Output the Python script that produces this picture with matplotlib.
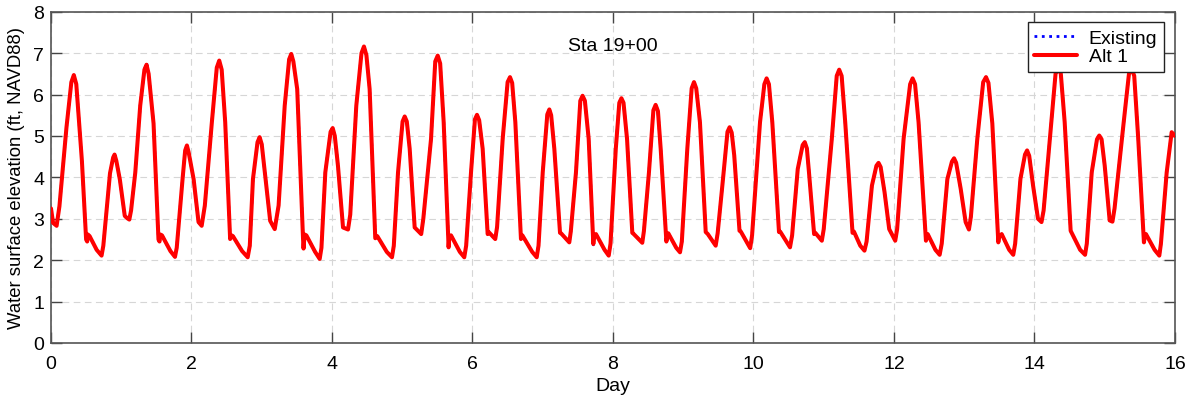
import matplotlib
matplotlib.use("Agg")
import matplotlib.pyplot as plt

# ---- data (day, water surface elevation ft NAVD88) ----
day = [
    0.00, 0.03, 0.08, 0.12, 0.22, 0.29, 0.325, 0.36, 0.44, 0.50, 0.515, 0.525, 0.55, 0.65, 0.72, 0.745,
    0.84, 0.885, 0.905, 0.93, 0.98, 1.05, 1.08, 1.115, 1.14, 1.20, 1.27, 1.33, 1.36, 1.39, 1.46, 1.53,
    1.545, 1.555, 1.58, 1.70, 1.765, 1.79, 1.875, 1.91, 1.935, 1.96, 2.03, 2.10, 2.145, 2.19, 2.29, 2.36,
    2.395, 2.43, 2.48, 2.55, 2.57, 2.59, 2.72, 2.80, 2.83, 2.875, 2.94, 2.97, 3.00, 3.065, 3.12, 3.185,
    3.24, 3.327, 3.39, 3.42, 3.45, 3.505, 3.587, 3.595, 3.61, 3.635, 3.76, 3.825, 3.85, 3.905, 3.98, 4.01,
    4.04, 4.085, 4.157, 4.228, 4.26, 4.346, 4.42, 4.455, 4.49, 4.536, 4.616, 4.645, 4.78, 4.854, 4.88, 4.94,
    5.005, 5.035, 5.065, 5.106, 5.177, 5.27, 5.30, 5.41, 5.47, 5.505, 5.54, 5.59, 5.66, 5.67, 5.694, 5.82,
    5.883, 5.91, 5.979, 6.035, 6.064, 6.095, 6.145, 6.216, 6.23, 6.324, 6.35, 6.43, 6.50, 6.534, 6.565, 6.61,
    6.69, 6.71, 6.85, 6.914, 6.94, 7.00, 7.065, 7.094, 7.12, 7.165, 7.246, 7.26, 7.378, 7.40, 7.473, 7.535,
    7.567, 7.60, 7.654, 7.72, 7.73, 7.758, 7.88, 7.939, 7.965, 8.04, 8.09, 8.12, 8.15, 8.20, 8.275, 8.29,
    8.417, 8.44, 8.512, 8.575, 8.607, 8.64, 8.679, 8.76, 8.77, 8.787, 8.90, 8.954, 8.98, 9.058, 9.12, 9.153,
    9.185, 9.238, 9.32, 9.35, 9.462, 9.49, 9.566, 9.63, 9.66, 9.69, 9.726, 9.801, 9.82, 9.953, 9.98, 10.093,
    10.155, 10.187, 10.22, 10.268, 10.363, 10.38, 10.52, 10.55, 10.63, 10.70, 10.73, 10.76, 10.79, 10.863, 10.88, 10.973,
    11.00, 11.115, 11.185, 11.22, 11.255, 11.306, 11.41, 11.43, 11.52, 11.58, 11.61, 11.686, 11.75, 11.78, 11.81, 11.866,
    11.932, 12.018, 12.045, 12.137, 12.23, 12.265, 12.30, 12.35, 12.455, 12.465, 12.48, 12.59, 12.65, 12.68, 12.76, 12.825,
    12.855, 12.885, 12.95, 13.02, 13.067, 13.095, 13.186, 13.27, 13.31, 13.345, 13.40, 13.485, 13.495, 13.533, 13.64, 13.698,
    13.725, 13.80, 13.865, 13.895, 13.925, 13.98, 14.05, 14.10, 14.13, 14.24, 14.30, 14.34, 14.375, 14.43, 14.515, 14.65,
    14.72, 14.745, 14.815, 14.89, 14.922, 14.955, 15.00, 15.07, 15.11, 15.14, 15.27, 15.345, 15.384, 15.42, 15.477, 15.558,
    15.568, 15.587, 15.71, 15.777, 15.80, 15.882, 15.953, 16.00,
]

alt1 = [
    3.25, 2.90, 2.83, 3.30, 5.20, 6.30, 6.47, 6.25, 4.40, 2.50, 2.45, 2.62, 2.58, 2.25, 2.11, 2.35,
    4.10, 4.48, 4.55, 4.40, 3.95, 3.07, 3.02, 2.98, 3.20, 4.12, 5.73, 6.60, 6.72, 6.50, 5.30, 2.50,
    2.45, 2.62, 2.60, 2.22, 2.08, 2.30, 4.00, 4.65, 4.77, 4.60, 3.96, 2.92, 2.83, 3.32, 5.33, 6.65,
    6.82, 6.60, 5.33, 2.51, 2.60, 2.58, 2.22, 2.07, 2.35, 3.96, 4.85, 4.97, 4.80, 3.80, 2.95, 2.75,
    3.32, 5.73, 6.85, 6.98, 6.80, 6.13, 2.55, 2.28, 2.62, 2.60, 2.20, 2.03, 2.30, 4.12, 5.10, 5.19,
    5.00, 4.28, 2.79, 2.74, 3.10, 5.73, 7.00, 7.16, 6.95, 6.13, 2.53, 2.58, 2.20, 2.07, 2.35, 4.12,
    5.35, 5.47, 5.35, 4.69, 2.79, 2.63, 3.00, 4.93, 6.80, 6.94, 6.75, 5.33, 2.31, 2.55, 2.60, 2.20,
    2.07, 2.35, 4.12, 5.40, 5.51, 5.38, 4.69, 2.63, 2.68, 2.51, 2.80, 4.93, 6.30, 6.42, 6.28, 5.33,
    2.51, 2.60, 2.20, 2.07, 2.35, 4.12, 5.52, 5.64, 5.50, 4.69, 2.66, 2.65, 2.43, 2.70, 4.12, 5.85,
    5.97, 5.85, 4.93, 2.39, 2.55, 2.63, 2.25, 2.11, 2.40, 4.69, 5.80, 5.91, 5.80, 4.93, 2.66, 2.64,
    2.42, 2.70, 4.12, 5.62, 5.75, 5.60, 4.69, 2.45, 2.55, 2.65, 2.30, 2.19, 2.45, 4.69, 6.15, 6.30,
    6.15, 5.33, 2.68, 2.63, 2.35, 2.65, 3.96, 5.10, 5.21, 5.08, 4.53, 2.71, 2.69, 2.29, 2.60, 5.33,
    6.25, 6.39, 6.25, 5.33, 2.68, 2.69, 2.31, 2.60, 4.20, 4.78, 4.85, 4.70, 4.12, 2.63, 2.66, 2.47,
    2.75, 4.93, 6.45, 6.60, 6.45, 5.33, 2.66, 2.69, 2.35, 2.23, 2.45, 3.80, 4.28, 4.35, 4.25, 3.64,
    2.75, 2.47, 2.75, 4.93, 6.25, 6.39, 6.25, 5.33, 2.47, 2.55, 2.63, 2.25, 2.13, 2.40, 3.96, 4.38,
    4.46, 4.35, 3.72, 2.92, 2.74, 3.05, 4.93, 6.30, 6.42, 6.28, 5.30, 2.43, 2.55, 2.63, 2.25, 2.13,
    2.40, 3.96, 4.55, 4.65, 4.52, 3.80, 3.00, 2.92, 3.20, 5.33, 6.50, 6.65, 6.50, 5.33, 2.71, 2.25,
    2.13, 2.40, 4.12, 4.92, 5.01, 4.92, 4.28, 2.96, 2.93, 3.25, 5.33, 6.50, 6.62, 6.45, 4.93, 2.43,
    2.55, 2.63, 2.25, 2.11, 2.40, 4.12, 5.09, 5.00,
]

# Existing condition is visually identical to Alt 1 except at a few extremes
existing = list(alt1)
existing_peaks = {1.36: 6.76, 3.42: 7.00, 1.545: 2.43, 2.57: 2.50, 7.72: 2.37}

series_labels = ["Existing", "Alt 1"]
x_ticks = [0, 2, 4, 6, 8, 10, 12, 14, 16]
y_ticks = [0, 1, 2, 3, 4, 5, 6, 7, 8]
station_label = "Sta 19+00"

for k, v in existing_peaks.items():
    if k in day:
        existing[day.index(k)] = v

plt.rcParams['font.family'] = ['Liberation Sans', 'DejaVu Sans']
FS = 14.0

fig = plt.figure(figsize=(11.97, 4.02), dpi=100)
ax = fig.add_axes([0.0426, 0.1443, 0.9390, 0.8241])

ax.plot(day, existing, color='blue', linestyle=':', linewidth=2.0, label=series_labels[0], zorder=2)
ax.plot(day, alt1, color='red', linestyle='-', linewidth=2.9, label=series_labels[1], zorder=3,
        solid_joinstyle='round', solid_capstyle='round')

ax.set_xlim(0, 16)
ax.set_ylim(0, 8)
ax.set_xticks(x_ticks)
ax.set_yticks(y_ticks)
ax.tick_params(direction='in', length=8, width=1.0, top=True, right=True,
               labelsize=FS, color='#444444')
ax.tick_params(axis='x', pad=9)
ax.tick_params(axis='y', pad=5)
for s in ax.spines.values():
    s.set_color('#555555')
    s.set_linewidth(1.2)
ax.grid(True, color='#d6d6d6', linestyle=(0, (6, 4)), linewidth=0.8)
ax.set_axisbelow(True)

ax.set_xlabel("Day", fontsize=FS, labelpad=3)
ax.set_ylabel("Water surface elevation (ft, NAVD88)", fontsize=13.3, labelpad=6)

ax.text(8.0, 7.18, station_label, fontsize=FS, ha='center', va='center')

leg = ax.legend(loc='upper right', fontsize=FS, fancybox=False, framealpha=1.0,
                edgecolor='#222222', borderpad=0.35, labelspacing=0.05, handlelength=2.2,
                borderaxespad=0.55, handletextpad=0.6)
leg.get_frame().set_linewidth(1.0)

fig.savefig("out.png", dpi=100)
